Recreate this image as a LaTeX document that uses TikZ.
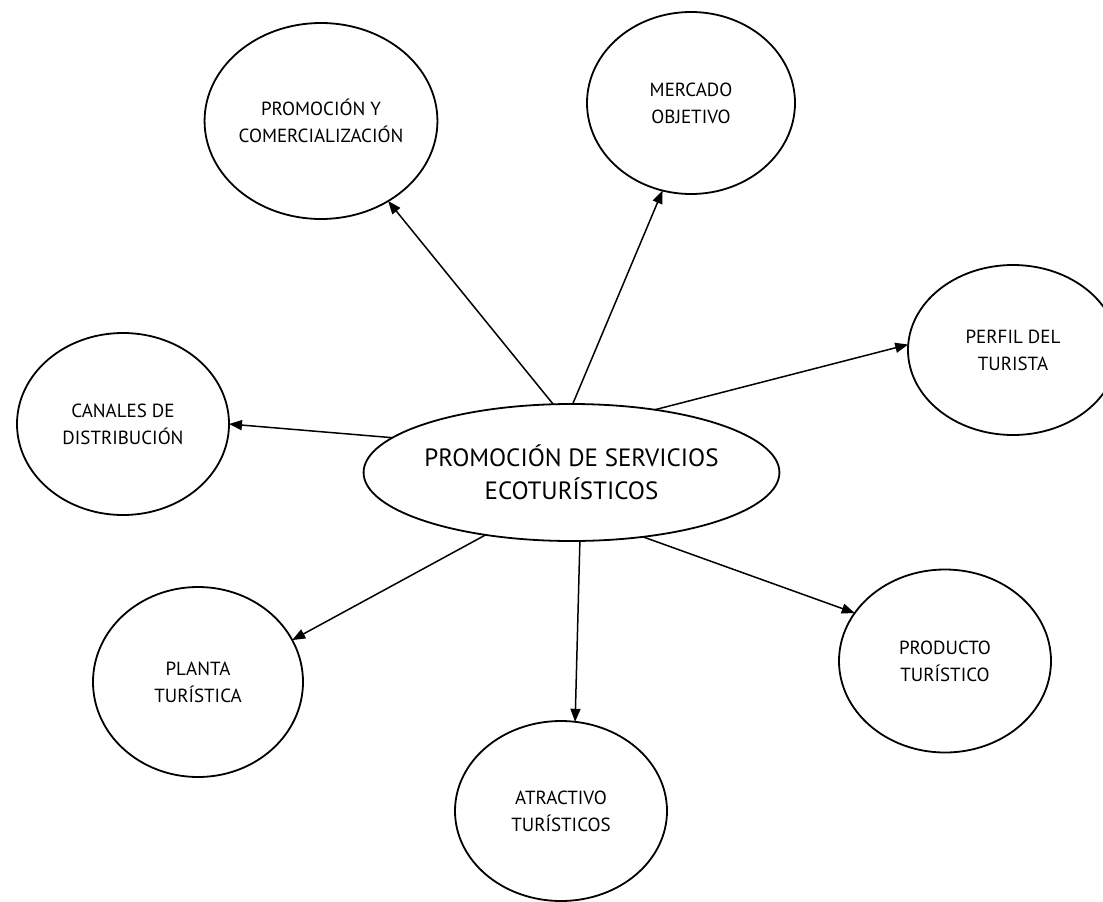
\documentclass[tikz,border=0pt]{standalone}
\usepackage{fontspec}
\setmainfont{PT Sans}
\usetikzlibrary{arrows.meta,shapes.geometric}
\tikzset{
  bubble/.style={draw=black, line width=1.8pt, ellipse, inner sep=0pt, outer sep=0pt,
    align=center, text=black, font=\fontsize{19}{27}\selectfont},
  hub/.style={bubble, font=\fontsize{25}{33}\selectfont},
  link/.style={line width=1.5pt, -{Triangle[length=13pt,width=10pt]}},
}
\begin{document}
\begin{tikzpicture}[x=1pt,y=-1pt]
\useasboundingbox (0,0) rectangle (1103,902);
\clip (0,0) rectangle (1103,902);
\fill[white] (0,0) rectangle (1103,902);
\node[hub, minimum width=373pt, minimum height=137pt] (c) at (571.5,472.5) {PROMOCIÓN DE SERVICIOS\\ECOTURÍSTICOS};
\node[bubble, minimum width=210pt, minimum height=196pt] (pc) at (321,121) {PROMOCIÓN Y\\COMERCIALIZACIÓN};
\node[bubble, minimum width=208pt, minimum height=182pt] (mo) at (691,103) {MERCADO\\OBJETIVO};
\node[bubble, minimum width=210pt, minimum height=170pt] (pt) at (1013,350) {PERFIL DEL\\TURISTA};
\node[bubble, minimum width=212pt, minimum height=182pt] (cd) at (123,424) {CANALES DE\\DISTRIBUCIÓN};
\node[bubble, minimum width=210pt, minimum height=190pt] (pl) at (198,682) {PLANTA\\TURÍSTICA};
\node[bubble, minimum width=212pt, minimum height=180pt] (at) at (561,811) {ATRACTIVO\\TURÍSTICOS};
\node[bubble, minimum width=212pt, minimum height=183pt] (pr) at (945,661) {PRODUCTO\\TURÍSTICO};
\draw[link] (c.105.1) -- (pc.310.2);
\draw[link] (c.89.6) -- (mo.252.7);
\draw[link] (c.37.9) -- (pt.177.3);
\draw[link] (c.169.7) -- (cd.0);
\draw[link] (c.216.5) -- (pl.24.9);
\draw[link] (c.277.1) -- (at.81.2);
\draw[link] (c.318.8) -- (pr.152.9);
\end{tikzpicture}
\end{document}
